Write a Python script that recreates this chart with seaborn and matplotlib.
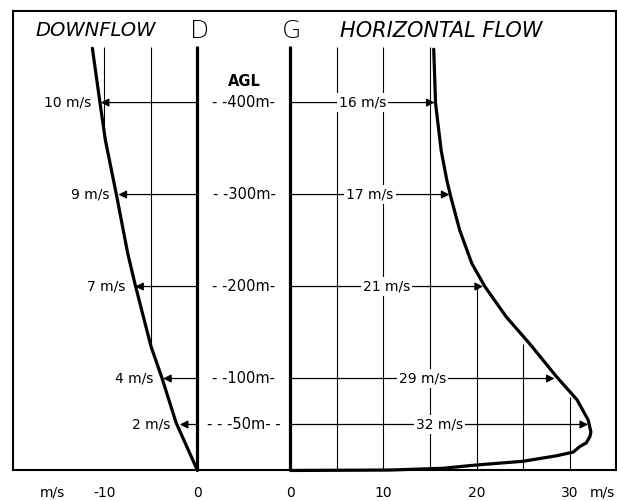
import numpy as np
import seaborn as sns
import matplotlib.pyplot as plt

# levels (m AGL) where the arrows are drawn, with the speeds written on them
heights = [400, 300, 200, 100, 50]
down_labels = [10, 9, 7, 4, 2]
horiz_labels = [16, 17, 21, 29, 32]
down_tips = [-10.4, -8.5, -6.7, -3.7, -1.9]
horiz_tips = [15.5, 17.1, 20.7, 28.4, 32.0]

# downflow profile (m/s, m)
down_w = [-11.3, -10.5, -9.9, -8.7, -7.5, -6.7, -5.0, -3.8, -2.3, 0.0]
down_z = [459, 401, 359, 299, 236, 202, 135, 100, 52, 0]

# horizontal flow profile (m/s, m)
horiz_u = [15.4, 15.6, 16.2, 16.8, 17.2, 18.2, 19.5, 20.9, 23.2, 25.7, 28.6, 30.8,
           32.0, 32.3, 32.2, 31.8, 31.1, 30.4, 28.6, 25.0, 20.0, 16.4, 10.7, 0.0]
horiz_z = [458, 399, 348, 316, 299, 261, 225, 200, 167, 138, 102, 77,
           55, 42, 37, 30, 26, 20, 16, 10, 6, 2.4, 0.5, 0]

# thin guide lines inside the profiles
down_grid = [-5, -10]
down_grid_bottom = [135, 359]
horiz_grid = [5, 10, 15, 20, 25, 30]
horiz_grid_top = [460, 460, 460, 200, 138, 80]

tick_pos = [-10, 0, 10, 20, 30, 40]
tick_text = ["-10", "0", "0", "10", "20", "30"]

G = 10      # the horizontal flow panel starts 10 m/s right of D
TOP = 460   # top of the drawn profiles

sns.set_style("white")
plt.rcParams["font.family"] = ["DejaVu Sans"]
plt.rcParams["text.color"] = "black"
plt.rcParams["xtick.color"] = "black"
plt.rcParams["xtick.labelcolor"] = "black"

fig = plt.figure(figsize=(6.17, 5.01), dpi=100)
ax = fig.add_axes([0.0216, 0.0609, 0.9768, 0.918])

# axes of both panels
ax.vlines([0, G], 0, TOP + 1, color="black", lw=2.3, zorder=3)
ax.vlines(down_grid, down_grid_bottom, TOP, color="black", lw=0.8)
ax.vlines(np.array(horiz_grid) + G, 0, horiz_grid_top, color="black", lw=0.8)

sns.lineplot(x=down_w, y=down_z, sort=False, estimator=None, color="black",
             lw=2.3, ax=ax, clip_on=False, zorder=4)
sns.lineplot(x=np.array(horiz_u) + G, y=horiz_z, sort=False, estimator=None,
             color="black", lw=2.3, ax=ax, clip_on=False, zorder=4)

arrow = dict(arrowstyle="-|>", lw=0.9, color="black", mutation_scale=12,
             shrinkA=0, shrinkB=0)
for h, lab, tip in zip(heights, down_labels, down_tips):
    ax.annotate("", xy=(tip, h), xytext=(0, h), arrowprops=arrow, zorder=2)
    ax.text(tip - 1.0, h, f"{lab} m/s", ha="right", va="center", fontsize=10)

for h, lab, tip in zip(heights, horiz_labels, horiz_tips):
    ax.annotate("", xy=(G + tip, h), xytext=(G, h), arrowprops=arrow, zorder=2)
    ax.text(G + tip / 2, h, f"{lab} m/s", ha="center", va="center", fontsize=10,
            zorder=5, bbox=dict(facecolor="white", edgecolor="none", pad=1.5))

for h in heights:
    s = f"- -{h}m-" if h >= 100 else "- - -50m- -"
    ax.text(G / 2, h, s, ha="center", va="center", fontsize=10.5,
            bbox=dict(facecolor="white", edgecolor="none", pad=0.5), zorder=5)
ax.text(G / 2, 423, "AGL", ha="center", va="center", fontsize=10.5,
        fontweight="bold")

ax.text(-10.9, 478, "DOWNFLOW", ha="center", va="center", fontsize=14,
        fontstyle="italic")
ax.text(G + 16.2, 478, "HORIZONTAL FLOW", ha="center", va="center",
        fontsize=15, fontstyle="italic")
ax.text(0.2, 478, "D", ha="center", va="center", fontsize=18,
        fontweight="light")
ax.text(G + 0.1, 478, "G", ha="center", va="center", fontsize=18,
        fontweight="light")

ax.set_xlim(-19.8, 45)
ax.set_ylim(0, 500)
ax.set_xticks(tick_pos)
ax.set_xticklabels(tick_text)
ax.set_yticks([])
ax.tick_params(axis="x", direction="in", length=6, width=1, pad=11,
               labelsize=10)
for x, s in [(-15.6, "m/s"), (43.5, "m/s")]:
    ax.annotate(s, xy=(x, 0), xycoords=("data", "axes fraction"),
                xytext=(0, -11), textcoords="offset points",
                ha="center", va="top", fontsize=10)
for sp in ax.spines.values():
    sp.set_color("black")
    sp.set_linewidth(1.5)

fig.savefig("out.png", dpi=100)
